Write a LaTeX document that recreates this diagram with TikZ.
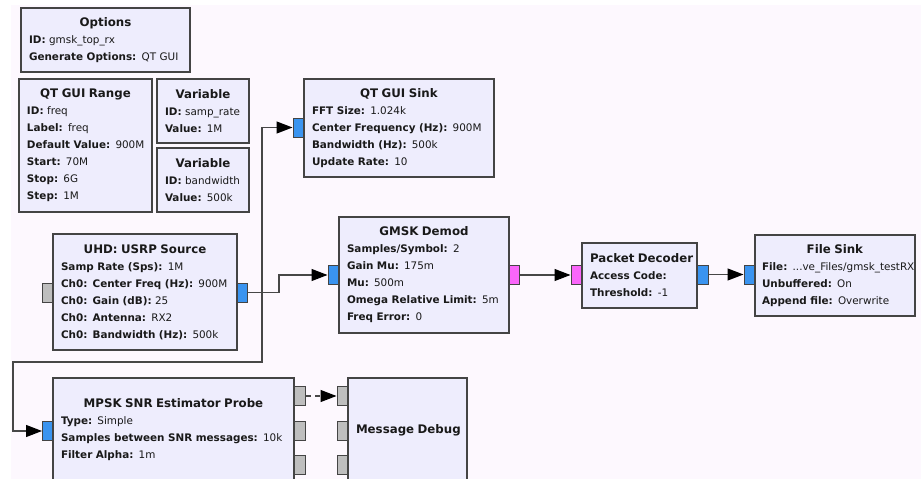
\documentclass[tikz,border=0pt]{standalone}
\usepackage{fontspec}
\setmainfont{DejaVu Sans}
\usetikzlibrary{arrows.meta}

\definecolor{canvas}{HTML}{FDF8FE}
\definecolor{blockfill}{HTML}{EEEDFD}
\definecolor{blockedge}{HTML}{444444}
\definecolor{portblue}{HTML}{3A94F0}
\definecolor{portpink}{HTML}{FA66FA}
\definecolor{portgray}{HTML}{BEBEBE}
\definecolor{wire}{HTML}{474747}

\tikzset{
  grblock/.style={draw=blockedge, fill=blockfill, line width=1.2pt,
    inner xsep=8pt, inner ysep=0pt, align=left, anchor=center,
    font=\fontsize{10.4}{17}\selectfont, text=black!90},
  grport/.style={draw=blockedge, line width=1pt, minimum width=11pt,
    minimum height=19pt, inner sep=0pt},
  wirestyle/.style={draw=wire, line width=1.2pt,
    -{Triangle[length=16pt,width=12pt,color=black,fill=black]}},
}
% block title (centred, larger) and one "label: value" line
\newcommand{\ttl}[1]{{\centering\fontsize{11.8}{17}\selectfont\mbox{\textbf{#1}}\par}\raggedright}
\newcommand{\kv}[2]{\mbox{\textbf{#1} #2}}

\begin{document}
\begin{tikzpicture}[x=1pt,y=-1pt]
\useasboundingbox (0,0) rectangle (921,479);
\fill[white] (0,0) rectangle (921,479);
\fill[canvas] (11,5) rectangle (921,479);
\clip (0,0) rectangle (921,479);

% ports (drawn first so the block borders lie over them)
\node[grport, fill=portgray] (usrp-in)  at (48,292.5) {};
\node[grport, fill=portblue] (usrp-out) at (242,292.5) {};
\node[grport, fill=portblue] (sink-in)  at (298.5,127.5) {};
\node[grport, fill=portblue] (gmsk-in)  at (333.5,275) {};
\node[grport, fill=portpink] (gmsk-out) at (514,275) {};
\node[grport, fill=portpink] (pkt-in)   at (576.5,275) {};
\node[grport, fill=portblue] (pkt-out)  at (702.5,274.5) {};
\node[grport, fill=portblue] (file-in)  at (749.5,274.5) {};
\node[grport, fill=portblue] (snr-in)   at (48,431) {};
\node[grport, fill=portgray] (snr-out1) at (300,396) {};
\node[grport, fill=portgray] (snr-out2) at (300,431) {};
\node[grport, fill=portgray] (snr-out3) at (300,465) {};
\node[grport, fill=portgray] (dbg-in1)  at (342.5,396) {};
\node[grport, fill=portgray] (dbg-in2)  at (342.5,431) {};
\node[grport, fill=portgray] (dbg-in3)  at (342.5,465) {};

% blocks
\node[grblock, minimum width=169pt, minimum height=64pt, text width=153pt] (options) at (105.5,40)
  {\ttl{Options}\kv{ID:}{gmsk\_top\_rx}\\\kv{Generate Options:}{QT GUI}};
\node[grblock, minimum width=133pt, minimum height=133pt, text width=117pt] (range) at (85.5,145.5)
  {\ttl{QT GUI Range}\kv{ID:}{freq}\\\kv{Label:}{freq}\\\kv{Default Value:}{900M}\\\kv{Start:}{70M}\\\kv{Stop:}{6G}\\\kv{Step:}{1M}};
\node[grblock, minimum width=92pt, minimum height=64pt, text width=76pt] (var-rate) at (203,111)
  {\ttl{Variable}\kv{ID:}{samp\_rate}\\\kv{Value:}{1M}};
\node[grblock, minimum width=92pt, minimum height=64pt, text width=76pt] (var-bw) at (203,180)
  {\ttl{Variable}\kv{ID:}{bandwidth}\\\kv{Value:}{500k}};
\node[grblock, minimum width=190pt, minimum height=98pt, text width=174pt] (sink) at (399,128)
  {\ttl{QT GUI Sink}\kv{FFT Size:}{1.024k}\\\kv{Center Frequency (Hz):}{900M}\\\kv{Bandwidth (Hz):}{500k}\\\kv{Update Rate:}{10}};
\node[grblock, minimum width=184pt, minimum height=116pt, text width=168pt] (usrp) at (145,292)
  {\ttl{UHD: USRP Source}\kv{Samp Rate (Sps):}{1M}\\\kv{Ch0: Center Freq (Hz):}{900M}\\\kv{Ch0: Gain (dB):}{25}\\\kv{Ch0: Antenna:}{RX2}\\\kv{Ch0: Bandwidth (Hz):}{500k}};
\node[grblock, minimum width=170pt, minimum height=116pt, text width=154pt] (gmsk) at (424,275)
  {\ttl{GMSK Demod}\kv{Samples/Symbol:}{2}\\\kv{Gain Mu:}{175m}\\\kv{Mu:}{500m}\\\kv{Omega Relative Limit:}{5m}\\\kv{Freq Error:}{0}};
\node[grblock, minimum width=115pt, minimum height=65pt, text width=99pt] (pkt) at (639.5,275.5)
  {\ttl{Packet Decoder}\kv{Access Code:}{}\\\kv{Threshold:}{-1}};
\node[grblock, minimum width=160pt, minimum height=81pt, text width=146pt, inner xsep=7pt] (file) at (835,275.5)
  {\ttl{File Sink}\kv{File:}{...ve\_Files/gmsk\_testRX}\\\kv{Unbuffered:}{On}\\\kv{Append file:}{Overwrite}};
\node[grblock, minimum width=241pt, minimum height=104pt, text width=225pt] (snr) at (173.5,430)
  {\ttl{MPSK SNR Estimator Probe}\kv{Type:}{Simple}\\\kv{Samples between SNR messages:}{10k}\\\kv{Filter Alpha:}{1m}};
\node[grblock, minimum width=119pt, minimum height=104pt, text width=103pt] (dbg) at (407.5,430)
  {\ttl{Message Debug}};

% connections
\draw[wirestyle] (usrp-out.east) -- ++(14,0) |- (sink-in.west);
\draw[wirestyle] (usrp-out.east) -- ++(31,0) |- (gmsk-in.west);
\draw[wirestyle] (usrp-out.east) -- ++(14,0) -- ++(0,69.5) -- ++(-249,0) |- (snr-in.west);
\draw[wirestyle] (gmsk-out.east) -- (pkt-in.west);
\draw[wirestyle] (pkt-out.east) -- (file-in.west);
\draw[wirestyle, dash pattern=on 5pt off 4pt] (snr-out1.east) -- (dbg-in1.west);
\end{tikzpicture}
\end{document}
